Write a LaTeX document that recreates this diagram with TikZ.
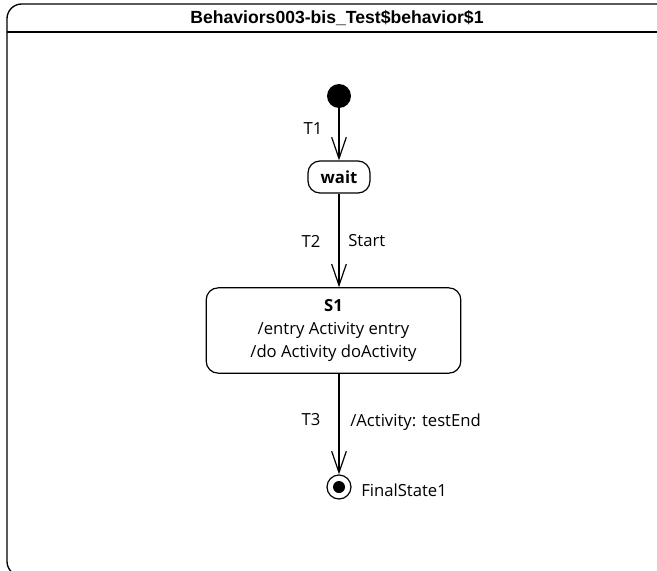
\documentclass[tikz,border=0pt]{standalone}
\usepackage{fontspec}
\setmainfont{Open Sans}
\newfontfamily\titlefont{Liberation Sans}
\usetikzlibrary{arrows.meta}

\tikzset{
  statebox/.style={draw, line width=0.9pt, rounded corners=9pt, align=center, inner sep=0pt},
  trans/.style={line width=0.9pt, -{Straight Barb[length=16pt,width=11pt,line width=0.9pt]}},
  lbl/.style={font=\fontsize{12.5}{14}\selectfont, inner sep=0pt}
}

\begin{document}
\begin{tikzpicture}[x=0.75pt,y=-0.75pt]
  \useasboundingbox (0,0) rectangle (657,571);

  % frame with header
  \draw[line width=1pt, rounded corners=11pt] (7,4) rectangle (675,576);
  \draw[line width=1pt] (7,32) -- (675,32);
  \node[inner sep=0pt, font=\titlefont\bfseries\fontsize{13.2}{15}\selectfont] (title) at (337,18) {Behaviors003-bis\_Test\$behavior\$1};

  % states
  \node[circle, fill=black, minimum size=18pt, inner sep=0pt] (init) at (339,96) {};
  \node[statebox, minimum width=46.5pt, minimum height=24pt, font=\bfseries\fontsize{12.5}{14}\selectfont] (wait) at (339,177) {wait};
  \node[statebox, minimum width=191pt, minimum height=64pt, font=\fontsize{12.5}{17}\selectfont] (s1) at (333.5,330.5)
    {\textbf{S1}\\/entry Activity entry\\/do Activity doActivity};
  \node[circle, draw, line width=0.9pt, minimum size=18pt, inner sep=0pt] (fin) at (339,487) {};
  \fill (fin) circle (4.5pt);
  \node[lbl, anchor=west] (finname) at (361,490) {FinalState1};

  % transitions
  \draw[trans] (init) -- (wait);
  \draw[trans] (wait) -- (wait |- s1.north);
  \draw[trans] (s1.south -| fin) -- (fin);

  % transition labels
  \node[lbl] (t1) at (313,129) {T1};
  \node[lbl] (t2) at (311,241) {T2};
  \node[lbl, anchor=west] (start) at (348,241) {Start};
  \node[lbl] (t3) at (311,420) {T3};
  \node[lbl, anchor=west] (eff) at (350,422) {/Activity: testEnd};

\end{tikzpicture}
\end{document}
